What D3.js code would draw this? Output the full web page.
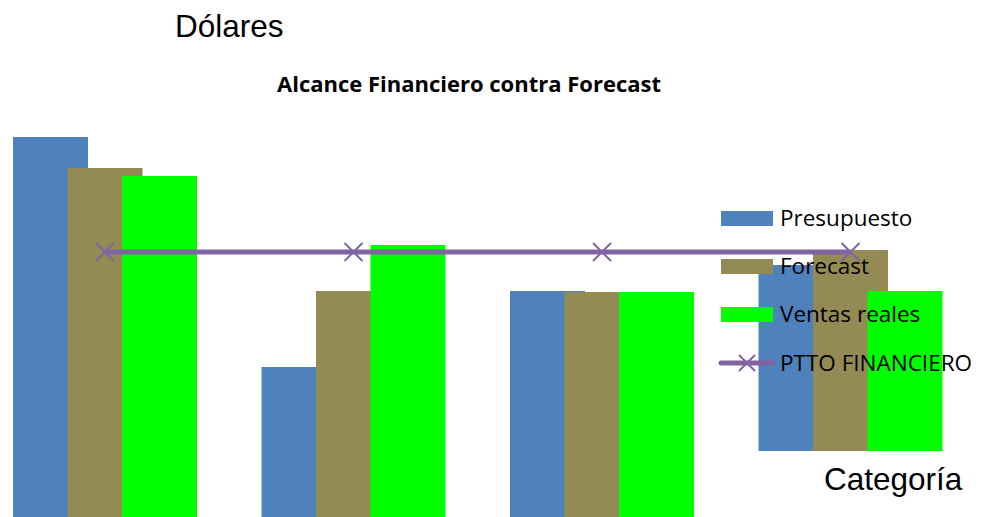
<!DOCTYPE html>
<html lang="es">
<head>
  <meta charset="UTF-8">
  <title>Alcance Financiero contra Forecast</title>
  <style>
    body { margin: 0; background: #fff; overflow: hidden; }
    svg { display: block; }
  </style>
</head>
<body>
<script src="https://cdn.jsdelivr.net/npm/d3@7"></script>
<script>
  var width = 981, height = 517;

  // datos
  var categorias = ["Categoría 1", "Categoría 2", "Categoría 3", "Categoría 4"];
  var series = ["Presupuesto", "Forecast", "Ventas reales"];
  var presupuesto = [380, 150, 226, 186];
  var forecast = [349, 226, 225, 201];
  var ventasReales = [341, 272, 225, 160];
  var pttoFinanciero = [265, 265, 265, 265];
  var colores = ["#4F81BD", "#948A54", "#00FF00"];
  var colorLinea = "#8064A2";

  var valores = [presupuesto, forecast, ventasReales];

  var svg = d3.select("body").append("svg")
    .attr("width", width)
    .attr("height", height);

  var x0 = d3.scaleBand()
    .domain(categorias)
    .range([13, 942.5])
    .paddingInner(0.2596)
    .paddingOuter(0);

  var barW = 75;
  var x1 = d3.scalePoint()
    .domain(series)
    .range([0, x0.bandwidth() - barW]);

  var y = d3.scaleLinear()
    .domain([0, 400])
    .range([height, height - 400]);

  var color = d3.scaleOrdinal().domain(series).range(colores);

  // la ultima categoria queda desplazada hacia arriba
  var offsets = [0, 0, 0, -66];

  var grupos = svg.selectAll(".grupo")
    .data(categorias)
    .enter().append("g")
    .attr("class", "grupo")
    .attr("transform", function(d, i) {
      return "translate(" + x0(d) + "," + offsets[i] + ")";
    });

  grupos.selectAll("rect")
    .data(function(d, i) {
      return series.map(function(s, j) { return {serie: s, valor: valores[j][i]}; });
    })
    .enter().append("rect")
    .attr("x", function(d) { return x1(d.serie); })
    .attr("y", function(d) { return y(d.valor); })
    .attr("width", barW)
    .attr("height", function(d) { return y(0) - y(d.valor); })
    .attr("fill", function(d) { return color(d.serie); });

  // linea PTTO FINANCIERO
  var cx = function(d, i) { return x0(categorias[i]) + x0.bandwidth() / 2; };
  var linea = d3.line()
    .x(cx)
    .y(function(d) { return y(d); });

  svg.append("path")
    .datum(pttoFinanciero)
    .attr("fill", "none")
    .attr("stroke", colorLinea)
    .attr("stroke-width", 5)
    .attr("d", linea);

  function cruz(g, px, py, r) {
    g.append("path")
      .attr("d", "M" + (px - r) + "," + (py - r) + "L" + (px + r) + "," + (py + r) +
                 "M" + (px - r) + "," + (py + r) + "L" + (px + r) + "," + (py - r))
      .attr("stroke", colorLinea)
      .attr("stroke-width", 2)
      .attr("fill", "none");
  }

  pttoFinanciero.forEach(function(d, i) {
    cruz(svg, cx(d, i), y(d), 9);
  });

  // titulos
  svg.append("text")
    .attr("x", 175)
    .attr("y", 37)
    .attr("font-family", "Liberation Sans, Arial, sans-serif")
    .attr("font-size", 31.5)
    .attr("fill", "#000")
    .text("Dólares");

  svg.append("text")
    .attr("x", 469)
    .attr("y", 92)
    .attr("text-anchor", "middle")
    .attr("font-family", "Open Sans, sans-serif")
    .attr("font-weight", "bold")
    .attr("font-size", 22)
    .attr("fill", "#000")
    .text("Alcance Financiero contra Forecast");

  svg.append("text")
    .attr("x", 824)
    .attr("y", 490)
    .attr("font-family", "Liberation Sans, Arial, sans-serif")
    .attr("font-size", 31.5)
    .attr("fill", "#000")
    .text("Categoría");

  // leyenda
  var leyenda = svg.append("g").attr("transform", "translate(721,0)");
  var filas = [211, 259, 307];

  series.forEach(function(s, i) {
    leyenda.append("rect")
      .attr("x", 0)
      .attr("y", filas[i])
      .attr("width", 52)
      .attr("height", 15)
      .attr("fill", color(s));
    leyenda.append("text")
      .attr("x", 59)
      .attr("y", filas[i] + 15)
      .attr("font-family", "Open Sans, sans-serif")
      .attr("font-size", 22.5)
      .attr("fill", "#000")
      .text(s);
  });

  leyenda.append("line")
    .attr("x1", 0).attr("x2", 52)
    .attr("y1", 363).attr("y2", 363)
    .attr("stroke", colorLinea)
    .attr("stroke-width", 5)
    .attr("stroke-linecap", "round");
  cruz(leyenda, 26, 363, 8);
  leyenda.append("text")
    .attr("x", 59)
    .attr("y", 371)
    .attr("font-family", "Open Sans, sans-serif")
    .attr("font-size", 22.5)
    .attr("fill", "#000")
    .text("PTTO FINANCIERO");
</script>
</body>
</html>
